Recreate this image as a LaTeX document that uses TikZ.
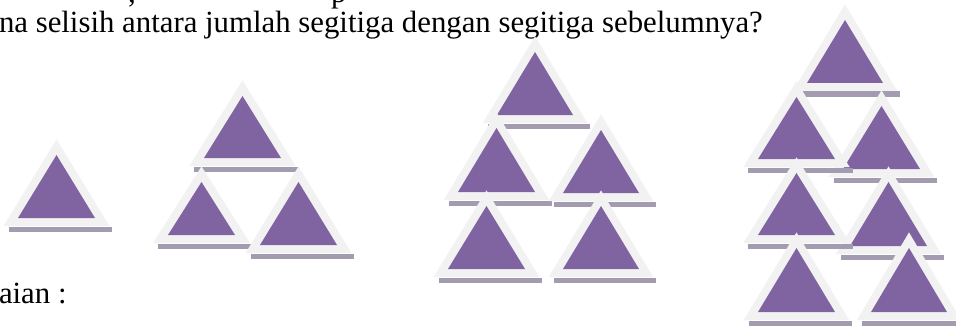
\documentclass[tikz,border=0pt]{standalone}
\usepackage{fontspec}
\setmainfont{Liberation Serif}
\definecolor{tripurple}{HTML}{8064A2}
\definecolor{triedge}{HTML}{F2F2F2}
\definecolor{trishadow}{HTML}{A39CB0}
\tikzset{
  txt/.style={inner sep=0pt, outer sep=0pt, anchor=base west, font=\fontsize{15.4pt}{18pt}\selectfont, text=black},
}
\newcommand{\mytri}[4]{%
  \pgfmathsetmacro{\triho}{#4+23.6}%
  \pgfmathsetmacro{\trihwo}{#3*\triho/#4}%
  \fill[trishadow] ({#1-\trihwo+5},{#2+8.5}) rectangle ({#1+\trihwo+3},{#2+14});
  \fill[triedge] ({#1-\trihwo},{#2+8}) -- ({#1+\trihwo},{#2+8}) -- ({#1},{#2-#4-15.6}) -- cycle;
  \fill[tripurple] ({#1-#3},{#2}) -- ({#1+#3},{#2}) -- ({#1},{#2-#4}) -- cycle;
}
\begin{document}
\begin{tikzpicture}[x=0.5pt,y=-0.5pt]
\useasboundingbox (0,0) rectangle (956,326);
\fill[white] (0,0) rectangle (956,326);
% texts
\node[txt] (comma) at (128,3) {,};
\node[txt] (pp) at (331,3) {p};
\node[txt] (q) at (-1,33) {na selisih antara jumlah segitiga dengan segitiga sebelumnya?};
\node[txt] (sol) at (-1,303) {aian :};
% pattern 1
\mytri{56.5}{218}{38.5}{63}
% pattern 2
\mytri{242.5}{158}{38.5}{62}
\mytri{201.5}{235}{33.5}{53}
\mytri{298.5}{245}{38.5}{63}
% pattern 3
\mytri{535}{115}{38}{63}
\mytri{496.5}{192}{38.5}{64}
\mytri{601}{193}{38}{63}
\mytri{486.5}{269}{38.5}{63}
\mytri{601}{269}{38}{63}
% pattern 4
\mytri{845}{83}{38}{63}
\mytri{881.5}{169}{38.5}{63}
\mytri{796.5}{159}{38.5}{62}
\mytri{888.5}{246}{38.5}{64}
\mytri{796.5}{235}{38.5}{62}
\mytri{796.5}{312}{38.5}{64}
\mytri{909}{312}{38}{64}
\end{tikzpicture}
\end{document}
